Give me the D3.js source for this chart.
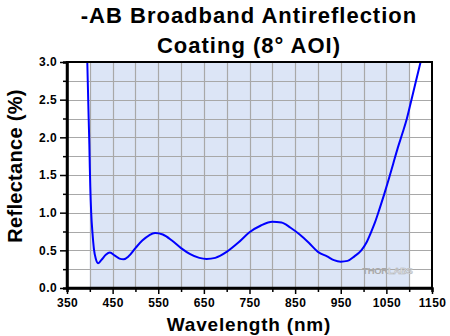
<!DOCTYPE html>
<html><head><meta charset="utf-8">
<script src="https://cdn.jsdelivr.net/npm/d3@7"></script>
<style>body{margin:0;background:#fff;} svg{display:block;}</style>
</head><body>
<svg id="c" width="450" height="336"></svg>
<script>
const wavelength = [394.5,396,397.5,399,400,401,403,406,409,413,418,425,435,444,455,465,474,485,500,515,530,543,560,580,600,620,640,656,675,700,725,750,775,800,820,840,860,880,900,920,935,950,965,980,995,1007,1015,1025,1035,1045,1055,1065,1075,1085,1095,1105,1115,1125];
const reflectance = [3.0,2.62,2.25,1.9,1.6,1.35,1.0,0.72,0.52,0.39,0.33,0.37,0.44,0.47,0.43,0.39,0.38,0.42,0.53,0.63,0.70,0.73,0.71,0.63,0.53,0.45,0.40,0.385,0.40,0.48,0.60,0.74,0.83,0.88,0.87,0.80,0.71,0.60,0.48,0.42,0.37,0.35,0.36,0.42,0.50,0.61,0.72,0.87,1.05,1.24,1.44,1.65,1.86,2.05,2.25,2.50,2.75,3.0];
const xTicks = [350,450,550,650,750,850,950,1050,1150];
const xMinorTicks = [400,500,600,700,800,900,1000,1100];
const yTicks = [0.0,0.5,1.0,1.5,2.0,2.5,3.0];
const yMinorTicks = [0.25,0.75,1.25,1.75,2.25,2.75];
const yGrid = [0.25,0.5,0.75,1.0,1.25,1.5,1.75,2.0,2.25,2.5,2.75];
const xGrid = [400,450,500,550,600,650,700,750,800,850,900,950,1000,1050,1100];
const shadeRange = [400,1100];
const titleLines = ["-AB Broadband Antireflection","Coating (8° AOI)"];

const svg = d3.select("#c");
const L=67, R=432, T=62, B=288;
const x = d3.scaleLinear().domain([350,1150]).range([L,R]);
const y = d3.scaleLinear().domain([0,3]).range([B,T]);
const font = "Liberation Sans, Arial, sans-serif";

// shading
svg.append("rect").attr("x",x(shadeRange[0])).attr("y",T)
  .attr("width",x(shadeRange[1])-x(shadeRange[0])).attr("height",B-T).attr("fill","#dce5f6");

// grid
const grid = svg.append("g");
grid.selectAll("line.h").data(yGrid).join("line").attr("class","h")
  .attr("x1",L).attr("x2",R).attr("y1",d=>Math.round(y(d))+0.5).attr("y2",d=>Math.round(y(d))+0.5)
  .attr("stroke","#a8a8a8").attr("stroke-width",1.2);
grid.selectAll("line.v").data(xGrid).join("line").attr("class","v")
  .attr("x1",d=>Math.round(x(d))+0.5).attr("x2",d=>Math.round(x(d))+0.5).attr("y1",T).attr("y2",B)
  .attr("stroke","#a8a8a8").attr("stroke-width",1.2);

// watermark
const wm = svg.append("text").attr("x",x(1050)+1).attr("y",y(0.2)+1).attr("text-anchor","middle")
  .attr("font-family",font).attr("font-weight","bold").attr("font-size",9.5)
  .attr("letter-spacing",-0.3);
wm.append("tspan").attr("fill","#a9a9a9").text("THOR");
wm.append("tspan").attr("fill","#e8ecf4").attr("stroke","#b0b0b0").attr("stroke-width",0.5).text("LABS");

// curve
const pts = wavelength.map((w,i)=>[w,reflectance[i]]);
svg.append("path").datum(pts)
  .attr("fill","none").attr("stroke","#0000ff").attr("stroke-width",2)
  .attr("d",d3.line().x(d=>x(d[0])).y(d=>y(d[1])).curve(d3.curveMonotoneX));

// frame
svg.append("line").attr("x1",L).attr("x2",R+1).attr("y1",T).attr("y2",T).attr("stroke","#000").attr("stroke-width",2);
svg.append("line").attr("x1",R).attr("x2",R).attr("y1",T).attr("y2",B).attr("stroke","#000").attr("stroke-width",2);

// y axis
const ya = svg.append("g").attr("transform",`translate(${L},0)`)
  .call(d3.axisLeft(y).tickValues(yTicks).tickFormat(d3.format(".1f")).tickSize(7).tickPadding(3));
const yminor = svg.append("g").attr("transform",`translate(${L},0)`)
  .call(d3.axisLeft(y).tickValues(yMinorTicks).tickFormat("").tickSize(4));
// x axis
const xa = svg.append("g").attr("transform",`translate(0,${B})`)
  .call(d3.axisBottom(x).tickValues(xTicks).tickFormat(d3.format("d")).tickSize(6).tickPadding(4));
const xminor = svg.append("g").attr("transform",`translate(0,${B})`)
  .call(d3.axisBottom(x).tickValues(xMinorTicks).tickFormat("").tickSize(4));
[ya,yminor,xa,xminor].forEach(a=>{
  a.select(".domain").attr("stroke","#000").attr("stroke-width",2.5);
  a.selectAll(".tick line").attr("stroke","#000").attr("stroke-width",1.5);
  a.selectAll("text").attr("font-family",font).attr("font-weight","bold").attr("font-size",12)
   .attr("letter-spacing",0.4).attr("fill","#000");
});
ya.select(".domain").attr("d",`M0,${T-1}V${B+1}`);
xa.select(".domain").attr("d",`M${L-1},0H${R+1}`);

// titles
titleLines.forEach((t,i)=>{
  svg.append("text").attr("x",249).attr("y",23+i*30).attr("text-anchor","middle")
    .attr("font-family",font).attr("font-weight","bold").attr("font-size",22).attr("letter-spacing",1).text(t);
});
svg.append("text").attr("x",249).attr("y",331).attr("text-anchor","middle")
  .attr("font-family",font).attr("font-weight","bold").attr("font-size",19).attr("letter-spacing",0.8).text("Wavelength (nm)");
svg.append("text").attr("transform","translate(22,166) rotate(-90)").attr("text-anchor","middle")
  .attr("font-family",font).attr("font-weight","bold").attr("font-size",20).attr("letter-spacing",0.3).text("Reflectance (%)");
</script>
</body></html>
